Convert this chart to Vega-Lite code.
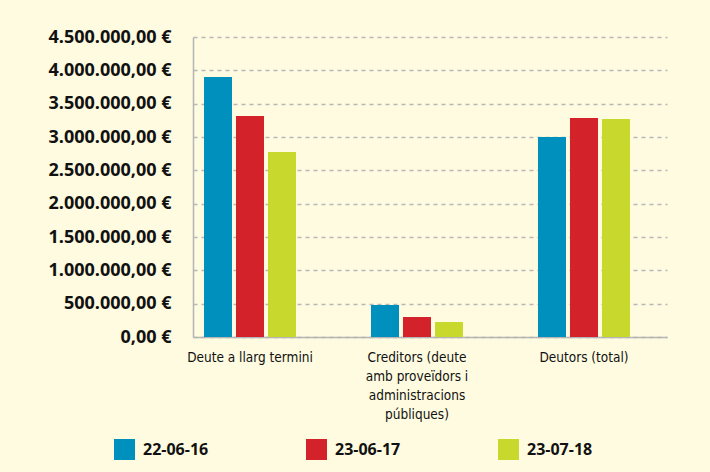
{
  "$schema": "https://vega.github.io/schema/vega-lite/v6.json",
  "width": 474,
  "height": 300,
  "autosize": {"type": "none"},
  "padding": {"left": 193, "top": 37, "right": 43, "bottom": 135},
  "background": "#fefbe0",
  "config": {
    "view": {"stroke": null},
    "locale": {
      "number": {"decimal": ",", "thousands": ".", "grouping": [3], "currency": ["", " €"]}
    }
  },
  "data": {
    "values": [
      {"cat": "Deute a llarg termini", "date": "22-06-16", "value": 3900000},
      {"cat": "Deute a llarg termini", "date": "23-06-17", "value": 3315000},
      {"cat": "Deute a llarg termini", "date": "23-07-18", "value": 2775000},
      {"cat": "Creditors (deute|amb proveïdors i|administracions|públiques)", "date": "22-06-16", "value": 480000},
      {"cat": "Creditors (deute|amb proveïdors i|administracions|públiques)", "date": "23-06-17", "value": 300000},
      {"cat": "Creditors (deute|amb proveïdors i|administracions|públiques)", "date": "23-07-18", "value": 225000},
      {"cat": "Deutors (total)", "date": "22-06-16", "value": 3000000},
      {"cat": "Deutors (total)", "date": "23-06-17", "value": 3285000},
      {"cat": "Deutors (total)", "date": "23-07-18", "value": 3270000}
    ]
  },
  "mark": {"type": "bar"},
  "encoding": {
    "x": {
      "field": "cat",
      "type": "nominal",
      "sort": null,
      "scale": {"paddingInner": 0.449, "paddingOuter": 0.1437, "align": 0.229},
      "axis": {
        "title": null,
        "labelAngle": 0,
        "labelExpr": "split(datum.value, '|')",
        "labelFont": "DejaVu Sans Condensed",
        "labelFontSize": 13.5,
        "labelLineHeight": 19,
        "labelColor": "#111111",
        "labelPadding": 13,
        "labelBaseline": "top",
        "ticks": false,
        "domainColor": "#b5b5b5",
        "domainWidth": 1.5,
        "labelLimit": 300
      }
    },
    "xOffset": {
      "field": "date",
      "type": "nominal",
      "scale": {"paddingInner": 0.125, "paddingOuter": 0}
    },
    "y": {
      "field": "value",
      "type": "quantitative",
      "scale": {"domain": [0, 4500000], "nice": false},
      "axis": {
        "title": null,
        "values": [0, 500000, 1000000, 1500000, 2000000, 2500000, 3000000, 3500000, 4000000, 4500000],
        "format": "$,.2f",
        "labelFont": "Open Sans",
        "labelFontWeight": "bold",
        "labelFontSize": 18,
        "labelColor": "#111111",
        "labelPadding": 22,
        "ticks": false,
        "domainColor": "#b5b5b5",
        "domainWidth": 1.5,
        "gridColor": "#b8b8b8",
        "gridDash": [4, 4],
        "gridWidth": 1.3
      }
    },
    "color": {
      "field": "date",
      "type": "nominal",
      "scale": {"domain": ["22-06-16", "23-06-17", "23-07-18"], "range": ["#0090be", "#d3222a", "#c8d82c"]},
      "legend": {
        "title": null,
        "orient": "none",
        "legendX": -79,
        "legendY": 402,
        "direction": "horizontal",
        "columns": 3,
        "columnPadding": 97,
        "padding": 0,
        "symbolType": "square",
        "symbolSize": 441,
        "symbolStrokeWidth": 0,
        "symbolOpacity": 1,
        "labelOffset": 8,
        "labelFont": "Open Sans",
        "labelFontWeight": "bold",
        "labelFontSize": 16,
        "labelColor": "#111111"
      }
    }
  }
}
